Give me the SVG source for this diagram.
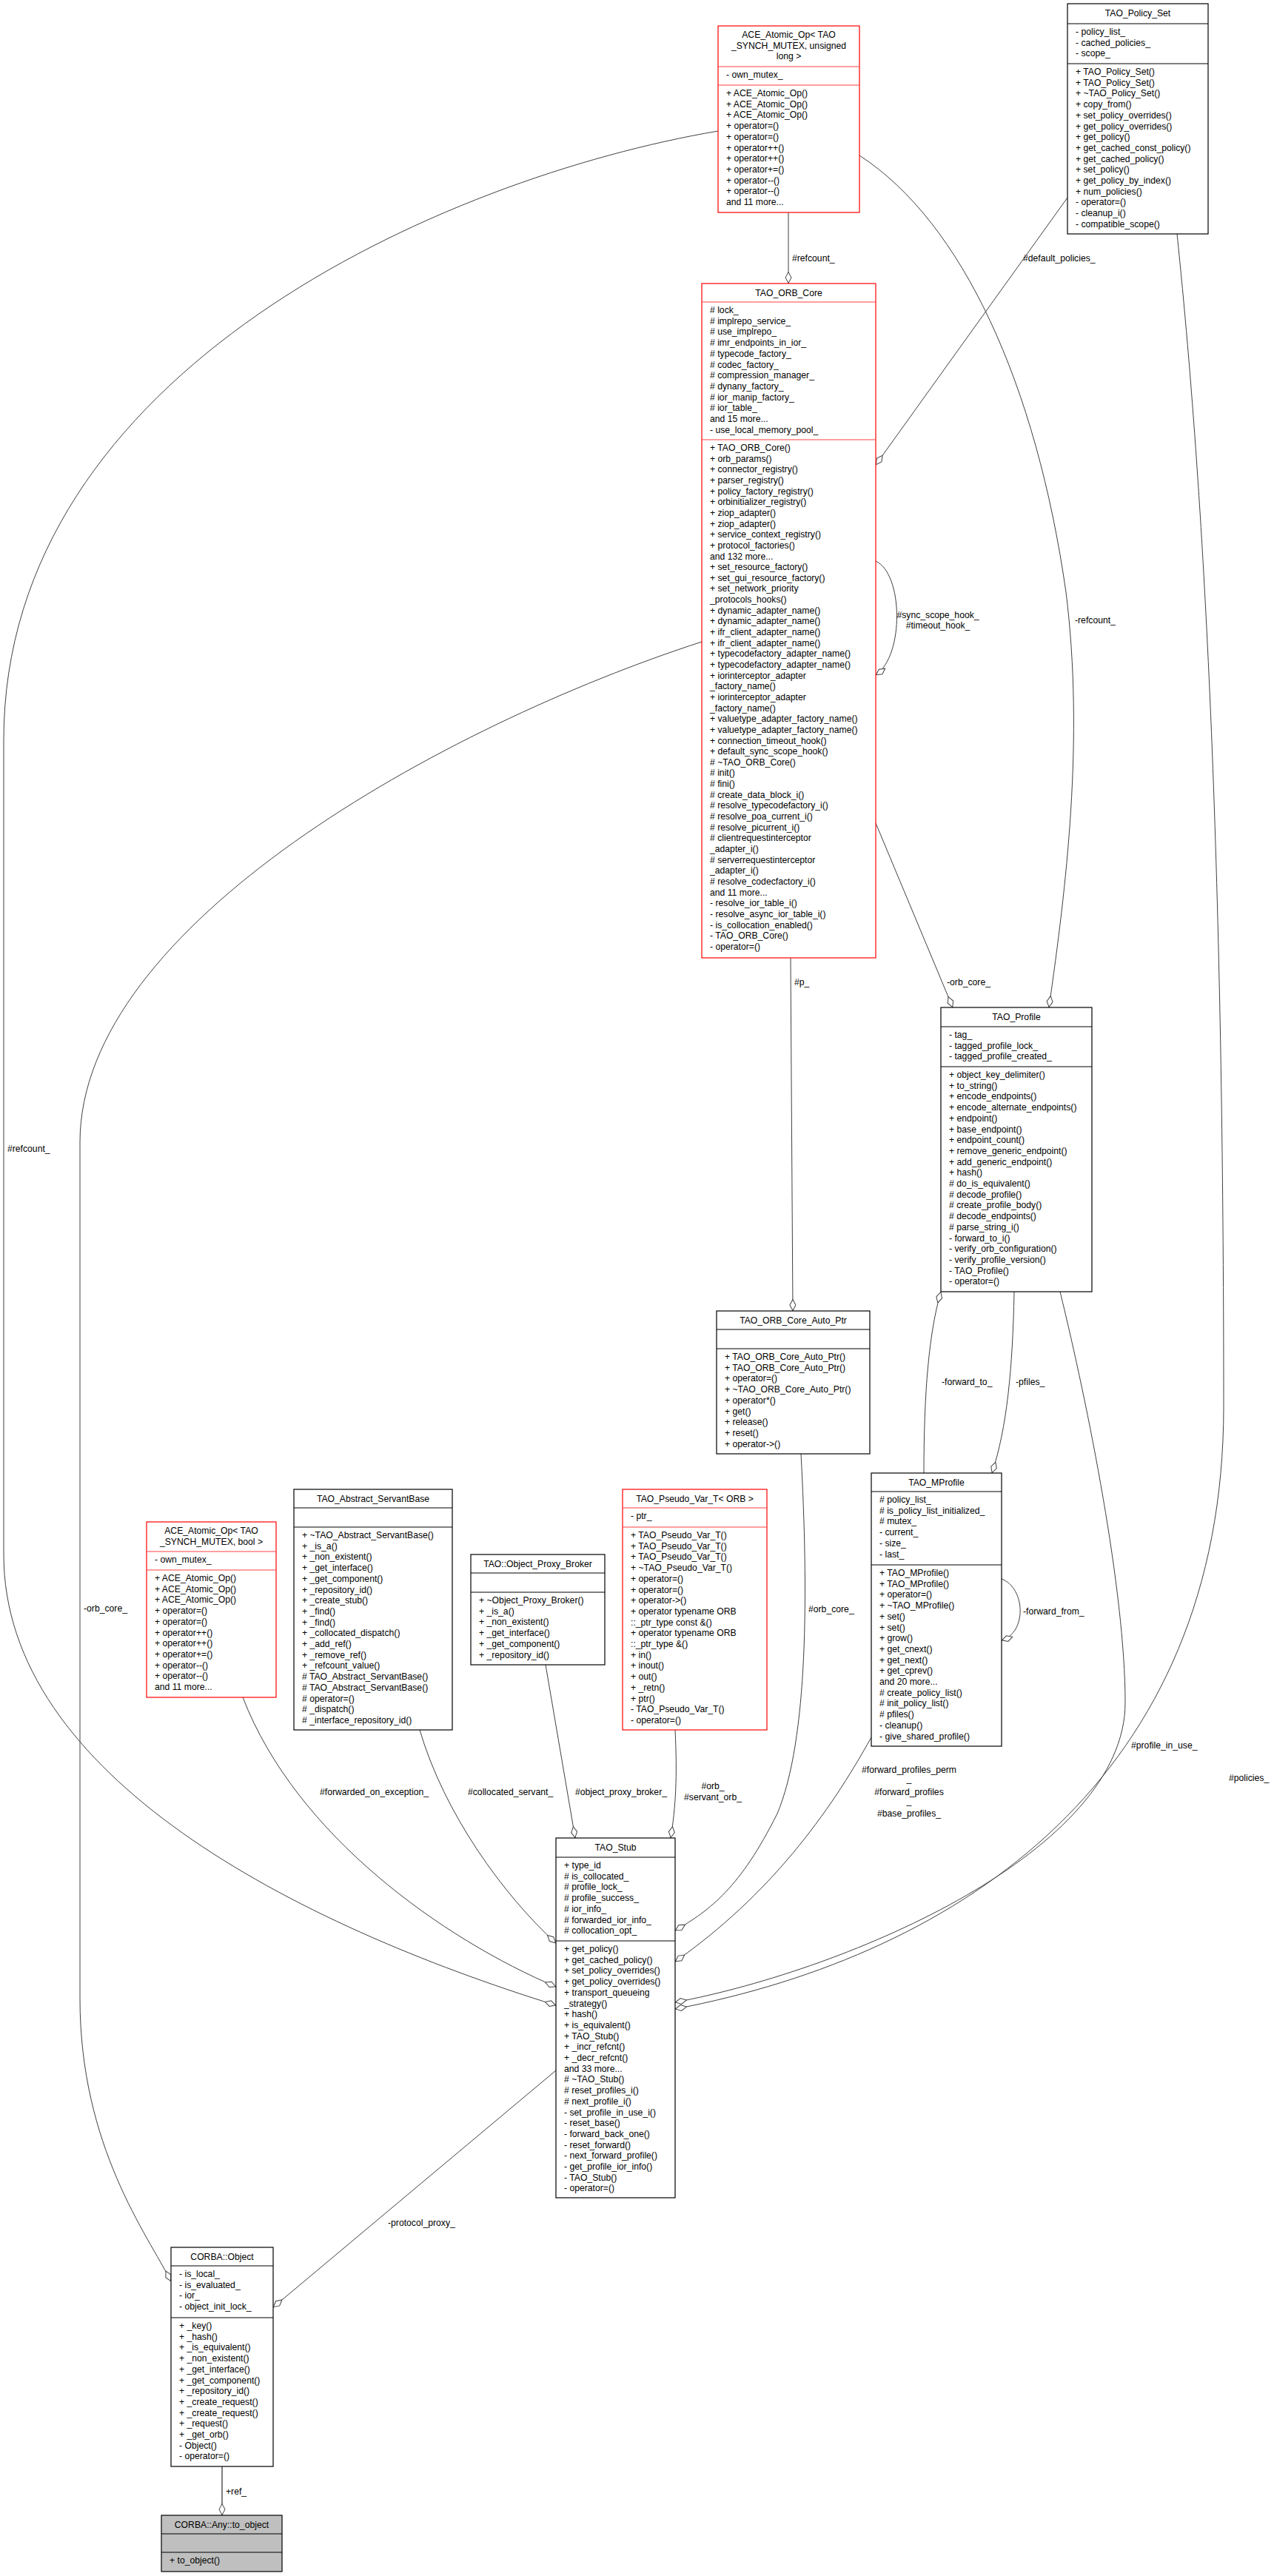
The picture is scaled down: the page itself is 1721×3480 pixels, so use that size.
<svg xmlns="http://www.w3.org/2000/svg" width="1721" height="3480" viewBox="0 0 1721 3480">
<style>
text{font-family:"Liberation Sans",Arial,sans-serif;font-size:12.2px;fill:#000}
.c{text-anchor:middle}
.b{fill:#fff;stroke:#000;stroke-width:1.2}
.r{fill:#fff;stroke:#ff0000;stroke-width:1.2}
.g{fill:#bfbfbf;stroke:#000;stroke-width:1.2}
.s{stroke:#000;stroke-width:1.2}
.sr{stroke:#ff4040;stroke-width:1.2}
.e{fill:none;stroke:#404040;stroke-width:1;marker-end:url(#d)}
.e2{fill:none;stroke:#808080;stroke-width:2;marker-end:url(#d)}
</style>
<defs>
<marker id="d" markerUnits="userSpaceOnUse" markerWidth="18" markerHeight="11" refX="16" refY="4.5" orient="auto"><path d="M0.5,4.5 L8,0.5 L15.5,4.5 L8,8.5 Z" fill="#fff" stroke="#404040" stroke-width="1"/></marker>
</defs>
<rect width="1721" height="3480" fill="#fff"/>
<g id="connectors">
<path class="e" d="M1065,287 L1065,383"/>
<path class="e" d="M1442,267 L1183,628"/>
<path class="e" d="M1161,210 C1300,300 1400,520 1440,800 C1465,1000 1440,1200 1417,1361"/>
<path class="e" d="M1183,1112 L1287,1361"/>
<path class="e" d="M1183,758 C1220,775 1222,885 1183,912"/>
<path class="e" d="M1068,1294 L1071,1771"/>
<path class="e" d="M1082,1964 C1092,2150 1092,2350 1050,2450 C1000,2550 960,2580 912,2608"/>
<path class="e" d="M1248,1990 C1248,1880 1255,1800 1271,1745"/>
<path class="e" d="M1370,1745 C1368,1850 1360,1930 1340,1990"/>
<path class="e" d="M1353,2133 C1385,2145 1388,2205 1353,2216"/>
<path class="e" d="M1177,2347 C1120,2450 1040,2560 912,2650"/>
<path class="e" d="M1432,1745 C1470,1900 1520,2150 1520,2300 C1520,2500 1150,2660 912,2705"/>
<path class="e" d="M1590,316 C1630,700 1653,1200 1653,1900 C1653,2400 1300,2640 912,2714"/>
<path class="e" d="M970,177 C600,240 5,500 5,1000 L5,2100 C5,2400 400,2600 751,2709"/>
<path class="e" d="M948,867 C600,980 108,1250 108,1543 L108,2700 C108,2900 200,3020 231,3082"/>
<path class="e" d="M328,2293 C400,2480 600,2620 751,2684"/>
<path class="e" d="M567,2337 C600,2450 680,2560 751,2625"/>
<path class="e" d="M737,2249 L777,2483"/>
<path class="e" d="M912,2337 C915,2400 913,2440 906,2483"/>
<path class="e" d="M751,2797 L369,3117"/>
<path class="e2" d="M300,3332 L300,3398"/>
<text x="1070" y="353">#refcount_</text>
<text x="1382" y="353">#default_policies_</text>
<text x="1452" y="842">-refcount_</text>
<text x="1279" y="1331">-orb_core_</text>
<text class="c" x="1267" y="835">#sync_scope_hook_</text>
<text class="c" x="1267" y="849">#timeout_hook_</text>
<text x="1073" y="1331">#p_</text>
<text x="1092" y="2178">#orb_core_</text>
<text x="1272" y="1871">-forward_to_</text>
<text x="1372" y="1871">-pfiles_</text>
<text x="1382" y="2181">-forward_from_</text>
<text class="c" x="1228" y="2395">#forward_profiles_perm</text>
<text class="c" x="1228" y="2407">_</text>
<text class="c" x="1228" y="2425">#forward_profiles</text>
<text class="c" x="1228" y="2437">_</text>
<text class="c" x="1228" y="2454">#base_profiles_</text>
<text x="1528" y="2362">#profile_in_use_</text>
<text x="1660" y="2406">#policies_</text>
<text x="10" y="1556">#refcount_</text>
<text x="113" y="2177">-orb_core_</text>
<text x="432" y="2425">#forwarded_on_exception_</text>
<text x="632" y="2425">#collocated_servant_</text>
<text x="777" y="2425">#object_proxy_broker_</text>
<text class="c" x="963" y="2417">#orb_</text>
<text class="c" x="963" y="2432">#servant_orb_</text>
<text x="524" y="3007">-protocol_proxy_</text>
<text x="305" y="3370">+ref_</text>
</g>
<g id="ace_unsigned">
<rect class="r" x="970" y="35" width="191" height="252"/>
<line class="sr" x1="970" y1="90" x2="1161" y2="90"/><line class="sr" x1="970" y1="115" x2="1161" y2="115"/>
<text class="c" x="1065.5" y="51">ACE_Atomic_Op&lt; TAO<tspan x="1065.5" dy="14.7">_SYNCH_MUTEX, unsigned</tspan><tspan x="1065.5" dy="14.7">long &gt;</tspan></text>
<text x="981" y="105">- own_mutex_</text>
<text x="981" y="130">+ ACE_Atomic_Op()<tspan x="981" dy="14.7">+ ACE_Atomic_Op()</tspan><tspan x="981" dy="14.7">+ ACE_Atomic_Op()</tspan><tspan x="981" dy="14.7">+ operator=()</tspan><tspan x="981" dy="14.7">+ operator=()</tspan><tspan x="981" dy="14.7">+ operator++()</tspan><tspan x="981" dy="14.7">+ operator++()</tspan><tspan x="981" dy="14.7">+ operator+=()</tspan><tspan x="981" dy="14.7">+ operator--()</tspan><tspan x="981" dy="14.7">+ operator--()</tspan><tspan x="981" dy="14.7">and 11 more...</tspan></text>
</g>
<g id="policy_set">
<rect class="b" x="1442" y="5" width="190" height="311"/>
<line class="s" x1="1442" y1="32" x2="1632" y2="32"/><line class="s" x1="1442" y1="86" x2="1632" y2="86"/>
<text class="c" x="1537" y="22">TAO_Policy_Set</text>
<text x="1453" y="47">- policy_list_<tspan x="1453" dy="14.7">- cached_policies_</tspan><tspan x="1453" dy="14.7">- scope_</tspan></text>
<text x="1453" y="101">+ TAO_Policy_Set()<tspan x="1453" dy="14.7">+ TAO_Policy_Set()</tspan><tspan x="1453" dy="14.7">+ ~TAO_Policy_Set()</tspan><tspan x="1453" dy="14.7">+ copy_from()</tspan><tspan x="1453" dy="14.7">+ set_policy_overrides()</tspan><tspan x="1453" dy="14.7">+ get_policy_overrides()</tspan><tspan x="1453" dy="14.7">+ get_policy()</tspan><tspan x="1453" dy="14.7">+ get_cached_const_policy()</tspan><tspan x="1453" dy="14.7">+ get_cached_policy()</tspan><tspan x="1453" dy="14.7">+ set_policy()</tspan><tspan x="1453" dy="14.7">+ get_policy_by_index()</tspan><tspan x="1453" dy="14.7">+ num_policies()</tspan><tspan x="1453" dy="14.7">- operator=()</tspan><tspan x="1453" dy="14.7">- cleanup_i()</tspan><tspan x="1453" dy="14.7">- compatible_scope()</tspan></text>
</g>
<g id="orb_core">
<rect class="r" x="948" y="383" width="235" height="911"/>
<line class="sr" x1="948" y1="408" x2="1183" y2="408"/><line class="sr" x1="948" y1="594" x2="1183" y2="594"/>
<text class="c" x="1065.5" y="400">TAO_ORB_Core</text>
<text x="959" y="423"># lock_<tspan x="959" dy="14.7"># implrepo_service_</tspan><tspan x="959" dy="14.7"># use_implrepo_</tspan><tspan x="959" dy="14.7"># imr_endpoints_in_ior_</tspan><tspan x="959" dy="14.7"># typecode_factory_</tspan><tspan x="959" dy="14.7"># codec_factory_</tspan><tspan x="959" dy="14.7"># compression_manager_</tspan><tspan x="959" dy="14.7"># dynany_factory_</tspan><tspan x="959" dy="14.7"># ior_manip_factory_</tspan><tspan x="959" dy="14.7"># ior_table_</tspan><tspan x="959" dy="14.7">and 15 more...</tspan><tspan x="959" dy="14.7">- use_local_memory_pool_</tspan></text>
<text x="959" y="609">+ TAO_ORB_Core()<tspan x="959" dy="14.65">+ orb_params()</tspan><tspan x="959" dy="14.65">+ connector_registry()</tspan><tspan x="959" dy="14.65">+ parser_registry()</tspan><tspan x="959" dy="14.65">+ policy_factory_registry()</tspan><tspan x="959" dy="14.65">+ orbinitializer_registry()</tspan><tspan x="959" dy="14.65">+ ziop_adapter()</tspan><tspan x="959" dy="14.65">+ ziop_adapter()</tspan><tspan x="959" dy="14.65">+ service_context_registry()</tspan><tspan x="959" dy="14.65">+ protocol_factories()</tspan><tspan x="959" dy="14.65">and 132 more...</tspan><tspan x="959" dy="14.65">+ set_resource_factory()</tspan><tspan x="959" dy="14.65">+ set_gui_resource_factory()</tspan><tspan x="959" dy="14.65">+ set_network_priority</tspan><tspan x="959" dy="14.65">_protocols_hooks()</tspan><tspan x="959" dy="14.65">+ dynamic_adapter_name()</tspan><tspan x="959" dy="14.65">+ dynamic_adapter_name()</tspan><tspan x="959" dy="14.65">+ ifr_client_adapter_name()</tspan><tspan x="959" dy="14.65">+ ifr_client_adapter_name()</tspan><tspan x="959" dy="14.65">+ typecodefactory_adapter_name()</tspan><tspan x="959" dy="14.65">+ typecodefactory_adapter_name()</tspan><tspan x="959" dy="14.65">+ iorinterceptor_adapter</tspan><tspan x="959" dy="14.65">_factory_name()</tspan><tspan x="959" dy="14.65">+ iorinterceptor_adapter</tspan><tspan x="959" dy="14.65">_factory_name()</tspan><tspan x="959" dy="14.65">+ valuetype_adapter_factory_name()</tspan><tspan x="959" dy="14.65">+ valuetype_adapter_factory_name()</tspan><tspan x="959" dy="14.65">+ connection_timeout_hook()</tspan><tspan x="959" dy="14.65">+ default_sync_scope_hook()</tspan><tspan x="959" dy="14.65"># ~TAO_ORB_Core()</tspan><tspan x="959" dy="14.65"># init()</tspan><tspan x="959" dy="14.65"># fini()</tspan><tspan x="959" dy="14.65"># create_data_block_i()</tspan><tspan x="959" dy="14.65"># resolve_typecodefactory_i()</tspan><tspan x="959" dy="14.65"># resolve_poa_current_i()</tspan><tspan x="959" dy="14.65"># resolve_picurrent_i()</tspan><tspan x="959" dy="14.65"># clientrequestinterceptor</tspan><tspan x="959" dy="14.65">_adapter_i()</tspan><tspan x="959" dy="14.65"># serverrequestinterceptor</tspan><tspan x="959" dy="14.65">_adapter_i()</tspan><tspan x="959" dy="14.65"># resolve_codecfactory_i()</tspan><tspan x="959" dy="14.65">and 11 more...</tspan><tspan x="959" dy="14.65">- resolve_ior_table_i()</tspan><tspan x="959" dy="14.65">- resolve_async_ior_table_i()</tspan><tspan x="959" dy="14.65">- is_collocation_enabled()</tspan><tspan x="959" dy="14.65">- TAO_ORB_Core()</tspan><tspan x="959" dy="14.65">- operator=()</tspan></text>
</g>
<g id="tao_profile">
<rect class="b" x="1271" y="1361" width="204" height="384"/>
<line class="s" x1="1271" y1="1387" x2="1475" y2="1387"/><line class="s" x1="1271" y1="1441" x2="1475" y2="1441"/>
<text class="c" x="1373" y="1378">TAO_Profile</text>
<text x="1282" y="1402">- tag_<tspan x="1282" dy="14.7">- tagged_profile_lock_</tspan><tspan x="1282" dy="14.7">- tagged_profile_created_</tspan></text>
<text x="1282" y="1456">+ object_key_delimiter()<tspan x="1282" dy="14.7">+ to_string()</tspan><tspan x="1282" dy="14.7">+ encode_endpoints()</tspan><tspan x="1282" dy="14.7">+ encode_alternate_endpoints()</tspan><tspan x="1282" dy="14.7">+ endpoint()</tspan><tspan x="1282" dy="14.7">+ base_endpoint()</tspan><tspan x="1282" dy="14.7">+ endpoint_count()</tspan><tspan x="1282" dy="14.7">+ remove_generic_endpoint()</tspan><tspan x="1282" dy="14.7">+ add_generic_endpoint()</tspan><tspan x="1282" dy="14.7">+ hash()</tspan><tspan x="1282" dy="14.7"># do_is_equivalent()</tspan><tspan x="1282" dy="14.7"># decode_profile()</tspan><tspan x="1282" dy="14.7"># create_profile_body()</tspan><tspan x="1282" dy="14.7"># decode_endpoints()</tspan><tspan x="1282" dy="14.7"># parse_string_i()</tspan><tspan x="1282" dy="14.7">- forward_to_i()</tspan><tspan x="1282" dy="14.7">- verify_orb_configuration()</tspan><tspan x="1282" dy="14.7">- verify_profile_version()</tspan><tspan x="1282" dy="14.7">- TAO_Profile()</tspan><tspan x="1282" dy="14.7">- operator=()</tspan></text>
</g>
<g id="orb_core_auto_ptr">
<rect class="b" x="968" y="1771" width="207" height="193"/>
<line class="s" x1="968" y1="1796" x2="1175" y2="1796"/><line class="s" x1="968" y1="1822" x2="1175" y2="1822"/>
<text class="c" x="1071.5" y="1788">TAO_ORB_Core_Auto_Ptr</text>
<text x="979" y="1837">+ TAO_ORB_Core_Auto_Ptr()<tspan x="979" dy="14.7">+ TAO_ORB_Core_Auto_Ptr()</tspan><tspan x="979" dy="14.7">+ operator=()</tspan><tspan x="979" dy="14.7">+ ~TAO_ORB_Core_Auto_Ptr()</tspan><tspan x="979" dy="14.7">+ operator*()</tspan><tspan x="979" dy="14.7">+ get()</tspan><tspan x="979" dy="14.7">+ release()</tspan><tspan x="979" dy="14.7">+ reset()</tspan><tspan x="979" dy="14.7">+ operator-&gt;()</tspan></text>
</g>
<g id="tao_mprofile">
<rect class="b" x="1177" y="1990" width="176" height="369"/>
<line class="s" x1="1177" y1="2015" x2="1353" y2="2015"/><line class="s" x1="1177" y1="2114" x2="1353" y2="2114"/>
<text class="c" x="1265" y="2007">TAO_MProfile</text>
<text x="1188" y="2030"># policy_list_<tspan x="1188" dy="14.7"># is_policy_list_initialized_</tspan><tspan x="1188" dy="14.7"># mutex_</tspan><tspan x="1188" dy="14.7">- current_</tspan><tspan x="1188" dy="14.7">- size_</tspan><tspan x="1188" dy="14.7">- last_</tspan></text>
<text x="1188" y="2129">+ TAO_MProfile()<tspan x="1188" dy="14.7">+ TAO_MProfile()</tspan><tspan x="1188" dy="14.7">+ operator=()</tspan><tspan x="1188" dy="14.7">+ ~TAO_MProfile()</tspan><tspan x="1188" dy="14.7">+ set()</tspan><tspan x="1188" dy="14.7">+ set()</tspan><tspan x="1188" dy="14.7">+ grow()</tspan><tspan x="1188" dy="14.7">+ get_cnext()</tspan><tspan x="1188" dy="14.7">+ get_next()</tspan><tspan x="1188" dy="14.7">+ get_cprev()</tspan><tspan x="1188" dy="14.7">and 20 more...</tspan><tspan x="1188" dy="14.7"># create_policy_list()</tspan><tspan x="1188" dy="14.7"># init_policy_list()</tspan><tspan x="1188" dy="14.7"># pfiles()</tspan><tspan x="1188" dy="14.7">- cleanup()</tspan><tspan x="1188" dy="14.7">- give_shared_profile()</tspan></text>
</g>
<g id="ace_bool">
<rect class="r" x="198" y="2056" width="175" height="237"/>
<line class="sr" x1="198" y1="2096" x2="373" y2="2096"/><line class="sr" x1="198" y1="2121" x2="373" y2="2121"/>
<text class="c" x="285.5" y="2072">ACE_Atomic_Op&lt; TAO<tspan x="285.5" dy="14.7">_SYNCH_MUTEX, bool &gt;</tspan></text>
<text x="209" y="2111">- own_mutex_</text>
<text x="209" y="2136">+ ACE_Atomic_Op()<tspan x="209" dy="14.7">+ ACE_Atomic_Op()</tspan><tspan x="209" dy="14.7">+ ACE_Atomic_Op()</tspan><tspan x="209" dy="14.7">+ operator=()</tspan><tspan x="209" dy="14.7">+ operator=()</tspan><tspan x="209" dy="14.7">+ operator++()</tspan><tspan x="209" dy="14.7">+ operator++()</tspan><tspan x="209" dy="14.7">+ operator+=()</tspan><tspan x="209" dy="14.7">+ operator--()</tspan><tspan x="209" dy="14.7">+ operator--()</tspan><tspan x="209" dy="14.7">and 11 more...</tspan></text>
</g>
<g id="abstract_servantbase">
<rect class="b" x="397" y="2012" width="214" height="325"/>
<line class="s" x1="397" y1="2037" x2="611" y2="2037"/><line class="s" x1="397" y1="2063" x2="611" y2="2063"/>
<text class="c" x="504" y="2029">TAO_Abstract_ServantBase</text>
<text x="408" y="2078">+ ~TAO_Abstract_ServantBase()<tspan x="408" dy="14.7">+ _is_a()</tspan><tspan x="408" dy="14.7">+ _non_existent()</tspan><tspan x="408" dy="14.7">+ _get_interface()</tspan><tspan x="408" dy="14.7">+ _get_component()</tspan><tspan x="408" dy="14.7">+ _repository_id()</tspan><tspan x="408" dy="14.7">+ _create_stub()</tspan><tspan x="408" dy="14.7">+ _find()</tspan><tspan x="408" dy="14.7">+ _find()</tspan><tspan x="408" dy="14.7">+ _collocated_dispatch()</tspan><tspan x="408" dy="14.7">+ _add_ref()</tspan><tspan x="408" dy="14.7">+ _remove_ref()</tspan><tspan x="408" dy="14.7">+ _refcount_value()</tspan><tspan x="408" dy="14.7"># TAO_Abstract_ServantBase()</tspan><tspan x="408" dy="14.7"># TAO_Abstract_ServantBase()</tspan><tspan x="408" dy="14.7"># operator=()</tspan><tspan x="408" dy="14.7"># _dispatch()</tspan><tspan x="408" dy="14.7"># _interface_repository_id()</tspan></text>
</g>
<g id="object_proxy_broker">
<rect class="b" x="636" y="2100" width="181" height="149"/>
<line class="s" x1="636" y1="2125" x2="817" y2="2125"/><line class="s" x1="636" y1="2151" x2="817" y2="2151"/>
<text class="c" x="726.5" y="2117">TAO::Object_Proxy_Broker</text>
<text x="647" y="2166">+ ~Object_Proxy_Broker()<tspan x="647" dy="14.7">+ _is_a()</tspan><tspan x="647" dy="14.7">+ _non_existent()</tspan><tspan x="647" dy="14.7">+ _get_interface()</tspan><tspan x="647" dy="14.7">+ _get_component()</tspan><tspan x="647" dy="14.7">+ _repository_id()</tspan></text>
</g>
<g id="pseudo_var">
<rect class="r" x="841" y="2012" width="195" height="325"/>
<line class="sr" x1="841" y1="2037" x2="1036" y2="2037"/><line class="sr" x1="841" y1="2063" x2="1036" y2="2063"/>
<text class="c" x="938.5" y="2029">TAO_Pseudo_Var_T&lt; ORB &gt;</text>
<text x="852" y="2052">- ptr_</text>
<text x="852" y="2078">+ TAO_Pseudo_Var_T()<tspan x="852" dy="14.7">+ TAO_Pseudo_Var_T()</tspan><tspan x="852" dy="14.7">+ TAO_Pseudo_Var_T()</tspan><tspan x="852" dy="14.7">+ ~TAO_Pseudo_Var_T()</tspan><tspan x="852" dy="14.7">+ operator=()</tspan><tspan x="852" dy="14.7">+ operator=()</tspan><tspan x="852" dy="14.7">+ operator-&gt;()</tspan><tspan x="852" dy="14.7">+ operator typename ORB</tspan><tspan x="852" dy="14.7">::_ptr_type const &amp;()</tspan><tspan x="852" dy="14.7">+ operator typename ORB</tspan><tspan x="852" dy="14.7">::_ptr_type &amp;()</tspan><tspan x="852" dy="14.7">+ in()</tspan><tspan x="852" dy="14.7">+ inout()</tspan><tspan x="852" dy="14.7">+ out()</tspan><tspan x="852" dy="14.7">+ _retn()</tspan><tspan x="852" dy="14.7">+ ptr()</tspan><tspan x="852" dy="14.7">- TAO_Pseudo_Var_T()</tspan><tspan x="852" dy="14.7">- operator=()</tspan></text>
</g>
<g id="tao_stub">
<rect class="b" x="751" y="2483" width="161" height="486"/>
<line class="s" x1="751" y1="2509" x2="912" y2="2509"/><line class="s" x1="751" y1="2622" x2="912" y2="2622"/>
<text class="c" x="831.5" y="2500">TAO_Stub</text>
<text x="762" y="2524">+ type_id<tspan x="762" dy="14.7"># is_collocated_</tspan><tspan x="762" dy="14.7"># profile_lock_</tspan><tspan x="762" dy="14.7"># profile_success_</tspan><tspan x="762" dy="14.7"># ior_info_</tspan><tspan x="762" dy="14.7"># forwarded_ior_info_</tspan><tspan x="762" dy="14.7"># collocation_opt_</tspan></text>
<text x="762" y="2637">+ get_policy()<tspan x="762" dy="14.7">+ get_cached_policy()</tspan><tspan x="762" dy="14.7">+ set_policy_overrides()</tspan><tspan x="762" dy="14.7">+ get_policy_overrides()</tspan><tspan x="762" dy="14.7">+ transport_queueing</tspan><tspan x="762" dy="14.7">_strategy()</tspan><tspan x="762" dy="14.7">+ hash()</tspan><tspan x="762" dy="14.7">+ is_equivalent()</tspan><tspan x="762" dy="14.7">+ TAO_Stub()</tspan><tspan x="762" dy="14.7">+ _incr_refcnt()</tspan><tspan x="762" dy="14.7">+ _decr_refcnt()</tspan><tspan x="762" dy="14.7">and 33 more...</tspan><tspan x="762" dy="14.7"># ~TAO_Stub()</tspan><tspan x="762" dy="14.7"># reset_profiles_i()</tspan><tspan x="762" dy="14.7"># next_profile_i()</tspan><tspan x="762" dy="14.7">- set_profile_in_use_i()</tspan><tspan x="762" dy="14.7">- reset_base()</tspan><tspan x="762" dy="14.7">- forward_back_one()</tspan><tspan x="762" dy="14.7">- reset_forward()</tspan><tspan x="762" dy="14.7">- next_forward_profile()</tspan><tspan x="762" dy="14.7">- get_profile_ior_info()</tspan><tspan x="762" dy="14.7">- TAO_Stub()</tspan><tspan x="762" dy="14.7">- operator=()</tspan></text>
</g>
<g id="corba_object">
<rect class="b" x="231" y="3036" width="138" height="296"/>
<line class="s" x1="231" y1="3061" x2="369" y2="3061"/><line class="s" x1="231" y1="3131" x2="369" y2="3131"/>
<text class="c" x="300" y="3053">CORBA::Object</text>
<text x="242" y="3076">- is_local_<tspan x="242" dy="14.7">- is_evaluated_</tspan><tspan x="242" dy="14.7">- ior_</tspan><tspan x="242" dy="14.7">- object_init_lock_</tspan></text>
<text x="242" y="3146">+ _key()<tspan x="242" dy="14.7">+ _hash()</tspan><tspan x="242" dy="14.7">+ _is_equivalent()</tspan><tspan x="242" dy="14.7">+ _non_existent()</tspan><tspan x="242" dy="14.7">+ _get_interface()</tspan><tspan x="242" dy="14.7">+ _get_component()</tspan><tspan x="242" dy="14.7">+ _repository_id()</tspan><tspan x="242" dy="14.7">+ _create_request()</tspan><tspan x="242" dy="14.7">+ _create_request()</tspan><tspan x="242" dy="14.7">+ _request()</tspan><tspan x="242" dy="14.7">+ _get_orb()</tspan><tspan x="242" dy="14.7">- Object()</tspan><tspan x="242" dy="14.7">- operator=()</tspan></text>
</g>
<g id="any_to_object">
<rect class="g" x="218" y="3398" width="163" height="76"/>
<line class="s" x1="218" y1="3423" x2="381" y2="3423"/><line class="s" x1="218" y1="3448" x2="381" y2="3448"/>
<text class="c" x="299.5" y="3415">CORBA::Any::to_object</text>
<text x="229" y="3463">+ to_object()</text>
</g>
</svg>
